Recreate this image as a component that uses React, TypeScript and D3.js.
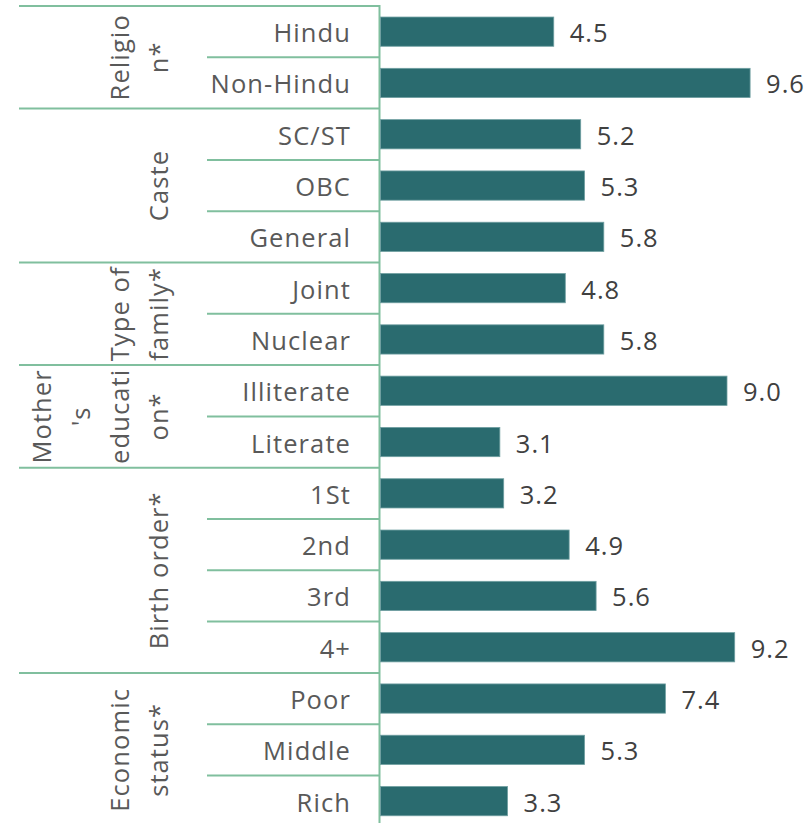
import React from "react";
import * as d3 from "d3";

const categories = [
  "Hindu", "Non-Hindu",
  "SC/ST", "OBC", "General",
  "Joint", "Nuclear",
  "Illiterate", "Literate",
  "1St", "2nd", "3rd", "4+",
  "Poor", "Middle", "Rich",
];
const values = [4.5, 9.6, 5.2, 5.3, 5.8, 4.8, 5.8, 9.0, 3.1, 3.2, 4.9, 5.6, 9.2, 7.4, 5.3, 3.3];
const groupLabels = [
  ["Religio", "n*"],
  ["Caste"],
  ["Type of", "family*"],
  ["Mother", "'s", "educati", "on*"],
  ["Birth order*"],
  ["Economic", "status*"],
];
const groupSizes = [2, 3, 2, 2, 4, 3];

const W = 809;
const H = 823;
const top = 6;
const rowH = 51.3;
const axisX = 380;
const lineColor = "#80BF9E";
const barColor = "#2A6B6F";
const font = "'Open Sans', 'Noto Sans', sans-serif";
const fs = 25.5;

export default function App() {
  const keys = categories.map((c, i) => `${i}`);
  const y = d3
    .scaleBand<string>()
    .domain(keys)
    .range([top, top + rowH * categories.length])
    .paddingInner(0.43)
    .paddingOuter(0.215);
  const x = d3.scaleLinear().domain([0, 10]).range([axisX + 0.5, axisX + 0.5 + 385]);

  const starts: number[] = [];
  let acc = 0;
  groupSizes.forEach((s) => {
    starts.push(acc);
    acc += s;
  });
  const rowTop = (i: number) => top + i * y.step();

  return (
    <svg
      width={W}
      height={H}
      style={{ position: "absolute", left: 0, top: 0, background: "#fff" }}
      fontFamily={font}
    >
      <line x1={19} x2={axisX} y1={rowTop(0)} y2={rowTop(0)} stroke={lineColor} strokeWidth={2} />
      {categories.map((c, i) => {
        if (i === 0) return null;
        const isGroup = starts.includes(i);
        return (
          <line
            key={"sep" + i}
            x1={isGroup ? 19 : 207}
            x2={axisX}
            y1={rowTop(i)}
            y2={rowTop(i)}
            stroke={lineColor}
            strokeWidth={2}
          />
        );
      })}
      <line
        x1={19}
        x2={axisX}
        y1={rowTop(categories.length)}
        y2={rowTop(categories.length)}
        stroke={lineColor}
        strokeWidth={2}
      />
      <line x1={axisX - 0.5} x2={axisX - 0.5} y1={rowTop(0) - 1} y2={H + 10} stroke={lineColor} strokeWidth={2} />

      {values.map((v, i) => (
        <rect
          key={"bar" + i}
          x={x(0)}
          y={y(keys[i])}
          width={x(v) - x(0)}
          height={y.bandwidth()}
          fill={barColor}
          stroke="#6F9FA1"
          strokeWidth={0.8}
        />
      ))}

      {values.map((v, i) => (
        <text
          key={"val" + i}
          x={x(v) + 16}
          y={(y(keys[i]) as number) + y.bandwidth() / 2 + 10.5}
          fontSize={fs}
          letterSpacing={1}
          fill="#404040"
        >
          {d3.format(".1f")(v)}
        </text>
      ))}

      {categories.map((c, i) => (
        <text
          key={"cat" + i}
          x={351}
          y={(y(keys[i]) as number) + y.bandwidth() / 2 + 10.5}
          fontSize={fs}
          letterSpacing={1.1}
          textAnchor="end"
          fill="#595959"
        >
          {c}
        </text>
      ))}

      {groupLabels.map((lines, g) => {
        const cy = (rowTop(starts[g]) + rowTop(starts[g] + groupSizes[g])) / 2;
        const n = lines.length;
        return lines.map((ln, k) => {
          const bx = 168 - (n - 1 - k) * 39;
          return (
            <text
              key={`g${g}-${k}`}
              transform={`translate(${bx},${cy}) rotate(-90)`}
              fontSize={fs}
              letterSpacing={1.1}
              textAnchor="middle"
              fill="#595959"
            >
              {ln}
            </text>
          );
        });
      })}
    </svg>
  );
}
